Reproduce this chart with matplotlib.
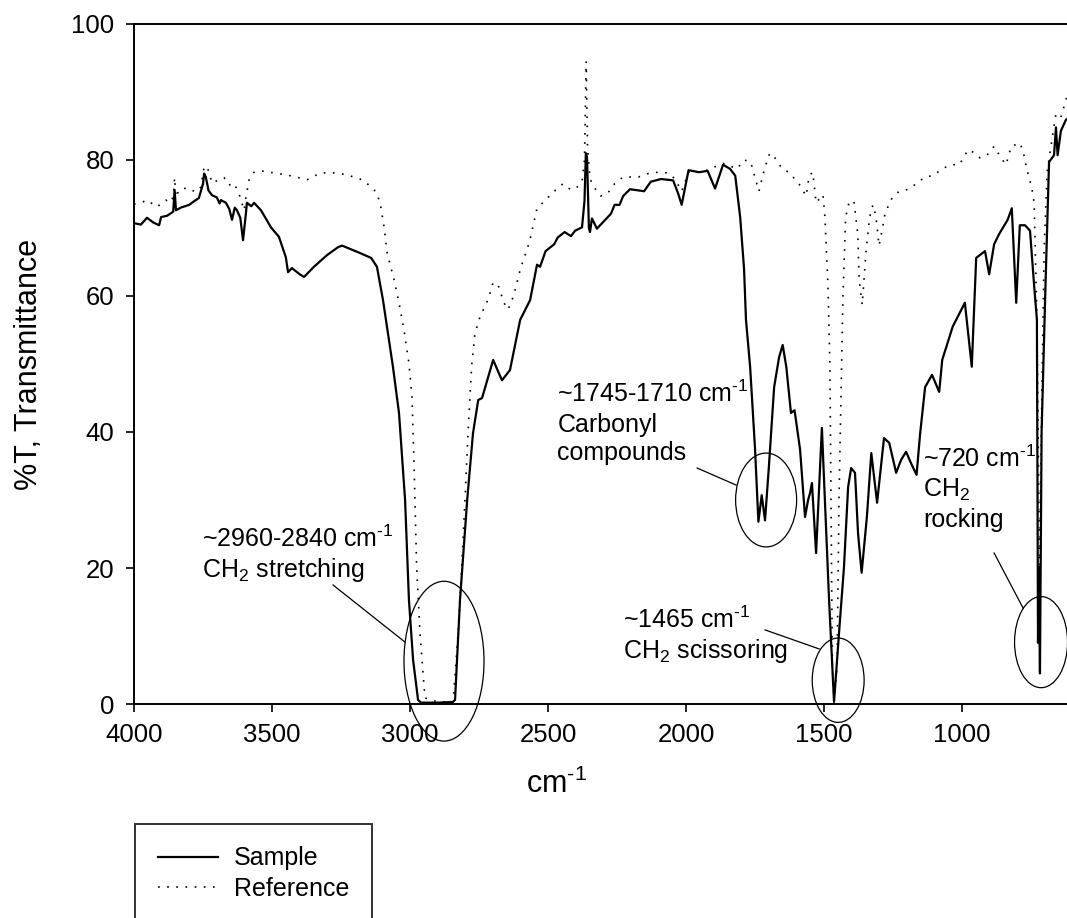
import numpy as np
import matplotlib
matplotlib.use('Agg')
import matplotlib.pyplot as plt
from matplotlib.patches import Ellipse

plt.rcParams['font.family'] = ['Liberation Sans', 'DejaVu Sans']
plt.rcParams['mathtext.fontset'] = 'custom'
plt.rcParams['mathtext.rm'] = 'Liberation Sans'
plt.rcParams['mathtext.it'] = 'Liberation Sans:italic'

# FTIR spectra, wavenumber (cm-1) vs %T
sample_wn = [4000, 3975, 3953, 3930, 3909, 3902, 3880, 3858, 3853, 3848, 3830, 3800, 3780,
             3765, 3750, 3746, 3740, 3730, 3717, 3700, 3690, 3685, 3667, 3655, 3645, 3635,
             3627, 3615, 3605, 3595, 3591, 3575, 3565, 3540, 3504, 3475, 3450, 3442, 3428,
             3400, 3384, 3348, 3301, 3260, 3246, 3192, 3141, 3120, 3098, 3062, 3040, 3018,
             3004, 2989, 2971, 2960, 2900, 2845, 2837, 2819, 2793, 2772, 2753, 2739, 2699,
             2667, 2638, 2601, 2565, 2540, 2529, 2509, 2478, 2465, 2440, 2417, 2402, 2377,
             2368, 2363, 2359, 2352, 2348, 2341, 2323, 2272, 2259, 2241, 2228, 2203, 2152,
             2128, 2091, 2047, 2029, 2016, 1991, 1953, 1922, 1895, 1866, 1841, 1822, 1804,
             1790, 1783, 1768, 1750, 1738, 1726, 1714, 1700, 1681, 1663, 1650, 1637, 1620,
             1607, 1587, 1569, 1558, 1551, 1544, 1529, 1508, 1497, 1482, 1464, 1446, 1428,
             1413, 1402, 1388, 1377, 1364, 1345, 1329, 1308, 1283, 1264, 1239, 1221, 1203,
             1185, 1165, 1152, 1134, 1109, 1083, 1072, 1034, 1009, 990, 965, 949, 917, 902,
             884, 866, 835, 820, 804, 791, 772, 754, 739, 729, 725, 722, 718, 712, 698, 685,
             667, 660, 654, 642, 624, 610]
sample_t = [70.7, 70.5, 71.5, 70.8, 70.4, 71.6, 71.8, 72.4, 75.6, 72.6, 73.0, 73.4, 74.0,
            74.4, 76.5, 78.0, 77.5, 75.5, 74.8, 74.5, 73.6, 74.1, 73.7, 72.8, 71.2, 73.0,
            72.6, 71.5, 68.2, 72.0, 73.7, 73.2, 73.7, 72.6, 70.1, 68.7, 65.7, 63.5, 64.1,
            63.2, 62.8, 64.3, 66.0, 67.2, 67.4, 66.5, 65.6, 64.3, 59.4, 49.6, 42.8, 30.0,
            15.3, 6.5, 0.6, 0.2, 0.2, 0.3, 0.6, 15.3, 30.0, 39.8, 44.7, 45.0, 50.6,
            47.6, 49.1, 56.5, 59.4, 64.6, 64.3, 66.6, 67.6, 68.6, 69.4, 68.8, 69.6, 70.1,
            74.0, 81.0, 80.5, 70.0, 69.4, 71.4, 69.9, 72.1, 73.4, 73.4, 74.7, 75.7, 75.4,
            76.8, 77.2, 77.0, 75.1, 73.4, 78.5, 78.2, 78.4, 75.8, 79.3, 78.7, 77.7, 71.6,
            64.0, 56.5, 49.6, 37.4, 26.8, 30.7, 27.0, 34.9, 46.6, 51.0, 52.8, 49.6, 42.8,
            43.2, 37.4, 27.5, 30.0, 31.0, 32.5, 22.2, 40.6, 30.0, 15.3, 0.3, 10.4, 20.1,
            31.9, 34.7, 34.0, 25.1, 19.3, 27.5, 36.9, 29.6, 39.1, 38.4, 34.0, 35.9, 37.1,
            35.4, 33.7, 39.8, 46.6, 48.4, 45.9, 50.6, 55.5, 57.5, 59.0, 49.6, 65.6, 66.6, 63.2,
            67.6, 69.1, 71.2, 72.9, 59.0, 70.4, 70.4, 69.6, 61.5, 56.5, 9.0, 20.0, 4.5, 40.0,
            61.5, 79.7, 80.7, 84.8, 80.7, 84.3, 85.9, 86.3]

ref_wn = [4000, 3975, 3953, 3917, 3884, 3873, 3858, 3853, 3848, 3837, 3808, 3777, 3758,
          3746, 3735, 3717, 3692, 3674, 3656, 3638, 3620, 3601, 3595, 3583, 3565, 3541,
          3493, 3446, 3373, 3324, 3265, 3228, 3174, 3142, 3119, 3106, 3094, 3083, 3058,
          3040, 3022, 3004, 2993, 2986, 2976, 2964, 2946, 2900, 2844, 2826, 2813, 2801,
          2790, 2777, 2765, 2746, 2717, 2699, 2680, 2660, 2645, 2625, 2600, 2567, 2540,
          2509, 2486, 2446, 2420, 2402, 2377, 2368, 2362, 2357, 2348, 2328, 2309, 2284,
          2259, 2228, 2172, 2123, 2065, 2040, 2016, 1991, 1942, 1866, 1815, 1790, 1766,
          1736, 1716, 1697, 1678, 1652, 1628, 1591, 1565, 1554, 1541, 1529, 1504, 1497,
          1486, 1479, 1470, 1464, 1453, 1446, 1432, 1422, 1410, 1392, 1378, 1373, 1362,
          1348, 1335, 1323, 1312, 1301, 1290, 1279, 1254, 1228, 1192, 1167, 1134, 1105,
          1072, 1041, 1010, 978, 953, 935, 910, 884, 859, 841, 822, 791, 779, 766, 748,
          739, 729, 722, 719, 715, 703, 692, 679, 660, 642, 624, 610]
ref_t = [73.5, 73.7, 74.1, 73.1, 74.1, 73.7, 74.5, 77.4, 74.5, 75.6, 75.9, 75.3, 76.0,
         79.0, 79.0, 76.6, 77.1, 77.4, 76.3, 76.6, 75.1, 72.6, 74.4, 77.1, 78.2, 78.4,
         78.1, 77.8, 77.1, 78.1, 78.1, 77.8, 77.1, 76.1, 75.1, 73.1, 70.1, 66.3, 62.4,
         59.0, 55.0, 50.1, 45.1, 35.9, 20.1, 10.4, 0.9, 0.3, 0.3, 10.4, 20.0, 30.0,
         39.8, 49.6, 54.5, 57.0, 59.5, 62.0, 61.5, 59.0, 58.0, 60.0, 64.0, 68.0, 72.9,
         74.1, 75.1, 76.5, 75.7, 75.7, 76.8, 80.0, 94.5, 81.8, 77.2, 75.7, 74.7, 75.1,
         76.5, 77.5, 77.5, 78.2, 78.1, 77.2, 75.4, 78.2, 78.2, 79.5, 78.7, 80.0, 79.7,
         75.4, 78.7, 81.0, 80.3, 78.7, 78.2, 76.5, 74.7, 77.7, 78.2, 73.7, 74.9, 71.6,
         61.5, 50.0, 5.4, 0.6, 5.4, 30.0, 59.4, 71.6, 73.7, 74.0, 69.1, 62.5, 58.7,
         66.6, 71.6, 73.4, 71.6, 67.4, 69.6, 72.2, 74.4, 75.4, 75.7, 76.5, 77.5, 77.7,
         78.7, 79.3, 79.3, 81.5, 81.0, 80.3, 80.7, 82.0, 80.3, 79.3, 82.0, 82.5, 81.3, 78.7,
         76.0, 73.7, 56.5, 30.0, 17.0, 35.0, 66.6, 78.2, 81.8, 86.8, 86.3, 88.8, 90.9]

fig = plt.figure(figsize=(10.67, 9.18), dpi=100)
ax = fig.add_axes([0.1256, 0.2331, 0.8744, 0.7408])

ax.plot(sample_wn, sample_t, color='black', lw=1.6, label='Sample')
ax.plot(ref_wn, ref_t, color='black', lw=1.2, linestyle=(0, (1, 4.5)), label='Reference')

ax.set_xlim(4000, 620)
ax.set_ylim(0, 100)
ax.set_xticks([4000, 3500, 3000, 2500, 2000, 1500, 1000])
ax.set_yticks([0, 20, 40, 60, 80, 100])
ax.tick_params(direction='out', length=6, width=1.2, labelsize=18.5, pad=8)
ax.spines['right'].set_visible(False)
for s in ['top', 'left', 'bottom']:
    ax.spines[s].set_linewidth(1.4)

inv_cm = r'cm$^{\text{-1}}$'
ax.set_ylabel('%T, Transmittance', fontsize=22)
ax.yaxis.set_label_coords(-0.097, 0.5)
ax.set_xlabel(inv_cm, fontsize=22)
ax.xaxis.set_label_coords(0.453, -0.095)

# annotations
fs = 18
ax.text(3754, 23.1, '~2960-2840 ' + inv_cm, fontsize=fs, va='baseline')
ax.text(3754, 18.7, 'CH$_2$ stretching', fontsize=fs, va='baseline')
ax.text(2466, 44.4, '~1745-1710 ' + inv_cm, fontsize=fs, va='baseline')
ax.text(2466, 40.0, 'Carbonyl', fontsize=fs, va='baseline')
ax.text(2466, 35.9, 'compounds', fontsize=fs, va='baseline')
ax.text(2228, 11.2, '~1465 ' + inv_cm, fontsize=fs, va='baseline')
ax.text(2228, 6.8, 'CH$_2$ scissoring', fontsize=fs, va='baseline')
ax.text(1140, 34.9, '~720 ' + inv_cm, fontsize=fs, va='baseline')
ax.text(1140, 30.4, 'CH$_2$', fontsize=fs, va='baseline')
ax.text(1140, 26.0, 'rocking', fontsize=fs, va='baseline')

ellipses = [(2877, 6.3, 290, 23.5), (1710, 30, 221, 13.8),
            (1449, 3.5, 188, 12.4), (714, 9.1, 192, 13.4)]
for cx, cy, w, h in ellipses:
    ax.add_patch(Ellipse((cx, cy), w, h, fill=False, color='black', lw=0.9, clip_on=False))

leaders = [((3279, 17.5), (3018, 9.1)), ((1960, 34.7), (1819, 32.2)),
           ((1714, 10.9), (1518, 8.1)), ((884, 22.2), (779, 14.1))]
for (x0, y0), (x1, y1) in leaders:
    ax.plot([x0, x1], [y0, y1], color='black', lw=0.9, clip_on=False)

leg = fig.legend(loc='upper left', bbox_to_anchor=(135 / 1067, 1 - 824 / 918),
                 fontsize=18, frameon=True, fancybox=False, edgecolor='black',
                 borderpad=0.9, handlelength=2.4, handletextpad=0.65,
                 labelspacing=0.25, borderaxespad=0)
leg.get_frame().set_linewidth(1.4)

fig.savefig('out.png', dpi=100)
